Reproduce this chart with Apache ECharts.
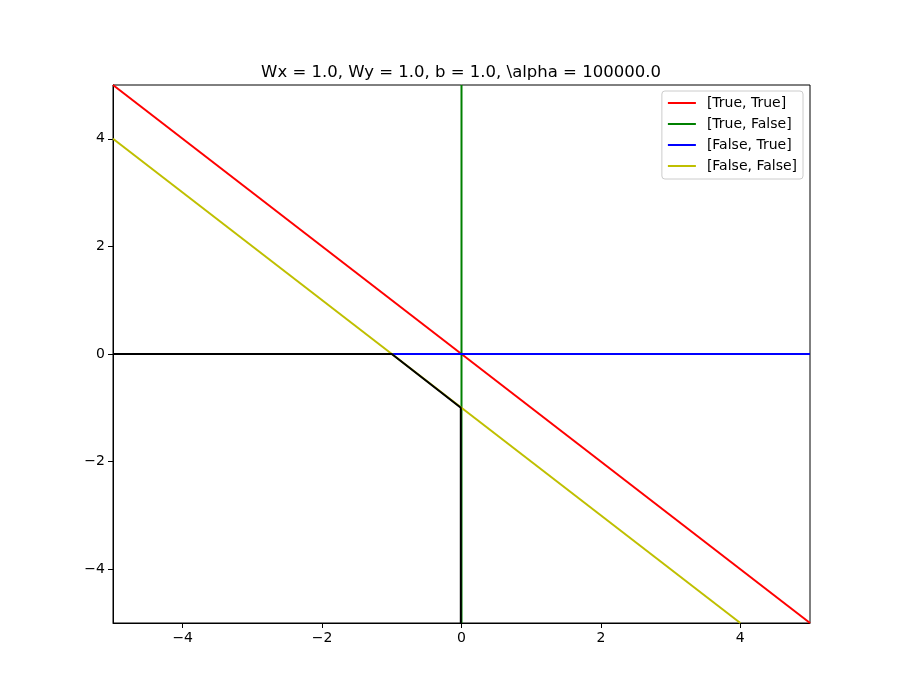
<!DOCTYPE html>
<html><head><meta charset="utf-8">
<script src="https://cdn.jsdelivr.net/npm/echarts@6/dist/echarts.min.js"></script>
<style>html,body{margin:0;padding:0;background:#fff}#c{width:900px;height:700px}</style>
</head><body><div id="c"></div>
<script>
const titleText = 'Wx = 1.0, Wy = 1.0, b = 1.0, \\alpha = 100000.0';
const tickValues = [-4, -2, 0, 2, 4];
const seriesNames = ['[True, True]', '[True, False]', '[False, True]', '[False, False]'];
const seriesColors = ['#ff0000', '#008000', '#0000ff', '#bfbf00'];
const trueTrue = [[-5, 5], [5, -5]];
const trueFalse = [[0, -5], [0, 5]];
const falseTrue = [[-5, 0], [5, 0]];
const falseFalse = [[-5, 4], [4, -5]];
const boundary = [[-5, 0], [-1, 0], [-0.01, -1], [-0.01, -5]];

const fmt = v => String(v).replace('-', '\u2212');
const chart = echarts.init(document.getElementById('c'));
const seriesData = [trueTrue, trueFalse, falseTrue, falseFalse];
const series = seriesData.map((d, i) => ({
  name: seriesNames[i], type: 'line', data: d, symbol: 'none',
  lineStyle: { color: seriesColors[i], width: 2 }, itemStyle: { color: seriesColors[i] },
  animation: false, z: 2
}));
series.push({ name: 'boundary', type: 'line', data: boundary, symbol: 'none',
  lineStyle: { color: '#000', width: 2 }, animation: false, z: 3 });
const axisCommon = {
  type: 'value', min: -5, max: 5,
  splitLine: { show: false },
  axisLine: { show: true, onZero: false, lineStyle: { color: '#000', width: 1 } },
  axisTick: { show: true, inside: false, length: 5, customValues: tickValues, lineStyle: { color: '#000' } },
  axisLabel: { customValues: tickValues, formatter: fmt, color: '#000', fontSize: 14, fontFamily: 'DejaVu Sans', margin: 8 }
};
chart.setOption({
  backgroundColor: '#fff',
  animation: false,
  title: { text: titleText, left: 456, textAlign: 'center', top: 59,
    textStyle: { fontSize: 16.5, fontWeight: 'normal', color: '#000', fontFamily: 'DejaVu Sans' } },
  grid: { left: 113, right: 90, top: 85, bottom: 77, show: true, borderColor: '#000', borderWidth: 1, containLabel: false },
  xAxis: Object.assign({}, axisCommon),
  yAxis: Object.assign({}, axisCommon),
  legend: {
    data: seriesNames, orient: 'vertical', right: 97, top: 91,
    icon: 'rect', itemWidth: 28, itemHeight: 2, itemGap: 7,
    backgroundColor: 'rgba(255,255,255,0.8)', borderColor: '#ccc', borderWidth: 1, borderRadius: 3,
    padding: [5, 6, 6, 6],
    textStyle: { fontSize: 14, color: '#000', fontFamily: 'DejaVu Sans', padding: [0, 0, 0, 6] }
  },
  series: series
});
</script></body></html>
